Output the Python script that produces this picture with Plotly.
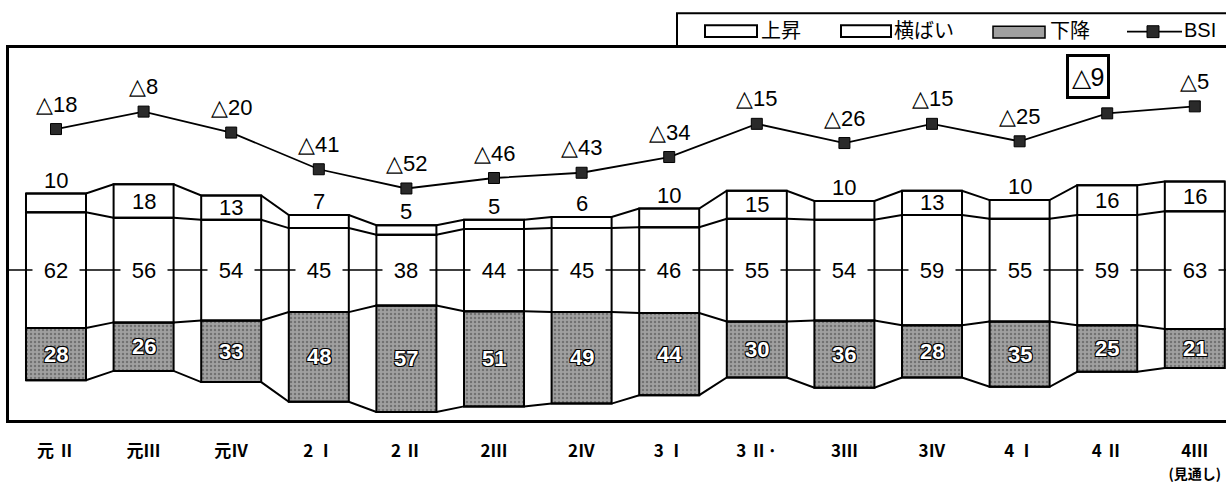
import plotly.graph_objects as go

# ---- data ----
categories = ["元 Ⅱ", "元Ⅲ", "元Ⅳ", "2 Ⅰ", "2 Ⅱ", "2Ⅲ", "2Ⅳ",
              "3 Ⅰ", "3 Ⅱ·", "3Ⅲ", "3Ⅳ", "4 Ⅰ", "4 Ⅱ",
              "4Ⅲ<br><span style='font-size:14px'>(見通し)</span>"]
up = [10, 18, 13, 7, 5, 5, 6, 10, 15, 10, 13, 10, 16, 16]        # 上昇
flat = [62, 56, 54, 45, 38, 44, 45, 46, 55, 54, 59, 55, 59, 63]  # 横ばい
down = [28, 26, 33, 48, 57, 51, 49, 44, 30, 36, 28, 35, 25, 21]  # 下降
bsi = [-18, -8, -20, -41, -52, -46, -43, -34, -15, -26, -15, -25, -9, -5]
boxed_index = 12  # BSI label drawn in a box (4 Ⅱ)

NUM_FONT = "Liberation Sans, Arial, sans-serif"
JP_FONT = "Noto Sans CJK JP, sans-serif"
W = 0.685
GRAY = "#a0a0a0"

x = list(range(len(categories)))
flat_base = [-f / 2 for f in flat]
down_base = [-f / 2 - d for f, d in zip(flat, down)]
up_base = [f / 2 for f in flat]
top = [f / 2 + u for f, u in zip(flat, up)]

fig = go.Figure()

outline = dict(color="black", width=2)
fig.add_trace(go.Bar(x=x, y=down, base=down_base, width=W, name="下降",
                     marker=dict(color=GRAY, line=outline,
                                 pattern=dict(shape=".", fgcolor="#444444", bgcolor=GRAY,
                                              size=4, solidity=0.3)),
                     showlegend=False, hoverinfo="skip"))
fig.add_trace(go.Bar(x=x, y=flat, base=flat_base, width=W, name="横ばい",
                     marker=dict(color="white", line=outline),
                     showlegend=False, hoverinfo="skip"))
fig.add_trace(go.Bar(x=x, y=up, base=up_base, width=W, name="上昇",
                     marker=dict(color="white", line=outline),
                     showlegend=False, hoverinfo="skip"))

# connector lines between bars at each boundary level
for level in (top, up_base, flat_base, down_base):
    xs, ys = [], []
    for i, b in zip(x, level):
        xs += [i - W / 2, i + W / 2]
        ys += [b, b]
    fig.add_trace(go.Scatter(x=xs, y=ys, mode="lines", line=dict(color="black", width=2),
                             showlegend=False, hoverinfo="skip"))

fig.add_trace(go.Scatter(x=x, y=bsi, yaxis="y2", mode="lines+markers", name="BSI",
                         line=dict(color="black", width=1.8),
                         marker=dict(symbol="square", size=11, color="#2a2a2a",
                                     line=dict(color="black", width=1)),
                         showlegend=False))

ann = []
for i in x:
    # BSI labels
    txt = ("△" + str(abs(bsi[i]))) if bsi[i] < 0 else str(bsi[i])
    if i == boxed_index:
        ann.append(dict(x=i, y=bsi[i], yref="y2", text=txt, showarrow=False,
                        xshift=-19, yshift=37, font=dict(family=NUM_FONT, size=25, color="black"),
                        bordercolor="black", borderwidth=3, borderpad=2, bgcolor="white",
                        width=34, height=35))
    else:
        ann.append(dict(x=i, y=bsi[i], yref="y2", text=txt, showarrow=False, yshift=25,
                        font=dict(family=NUM_FONT, size=22, color="black")))
    # 横ばい labels on centre line
    ann.append(dict(x=i, y=0, text=str(flat[i]), showarrow=False, bgcolor="white", width=44,
                    font=dict(family=NUM_FONT, size=22, color="black")))
    # 下降 labels
    ann.append(dict(x=i, y=down_base[i] + down[i] / 2, text=str(down[i]), showarrow=False,
                    font=dict(family=NUM_FONT, size=22, color="white", weight="bold",
                              shadow="1px 1px 0 #000, -1px -1px 0 #000, 1px -1px 0 #000, -1px 1px 0 #000")))
    # 上昇 labels
    if up[i] >= 12:
        ann.append(dict(x=i, y=up_base[i] + up[i] / 2, text=str(up[i]), showarrow=False,
                        font=dict(family=NUM_FONT, size=22, color="black")))
    else:
        ann.append(dict(x=i, y=top[i], text=str(up[i]), showarrow=False, yanchor="bottom",
                        yshift=-1, font=dict(family=NUM_FONT, size=22, color="black")))

# ---- legend (drawn in paper coordinates) ----
L, T, PW, PH = 9, 48, 1217, 376
def px(v):
    return (v - L) / PW
def py(v):
    return (T + PH - v) / PH

shapes = [
    dict(type="line", xref="paper", yref="y", x0=0, x1=1, y0=0, y1=0,
         line=dict(color="black", width=1.5), layer="above"),
    dict(type="rect", xref="paper", yref="paper", x0=px(677), x1=px(1240), y0=py(46), y1=py(13),
         line=dict(color="black", width=2), fillcolor="white"),
    dict(type="rect", xref="paper", yref="paper", x0=px(705), x1=px(757), y0=py(37), y1=py(25),
         line=dict(color="black", width=2), fillcolor="white"),
    dict(type="rect", xref="paper", yref="paper", x0=px(841), x1=px(891), y0=py(37), y1=py(25),
         line=dict(color="black", width=2), fillcolor="white"),
    dict(type="rect", xref="paper", yref="paper", x0=px(993), x1=px(1045), y0=py(38), y1=py(26),
         line=dict(color="black", width=1.5), fillcolor=GRAY),
    dict(type="line", xref="paper", yref="paper", x0=px(1127), x1=px(1182), y0=py(31.5), y1=py(31.5),
         line=dict(color="black", width=1.8)),
    dict(type="rect", xref="paper", yref="paper", x0=px(1147), x1=px(1159), y0=py(37.5), y1=py(25.5),
         line=dict(color="black", width=1), fillcolor="#2a2a2a"),
]
for label, lx in (("上昇", 759), ("横ばい", 892), ("下降", 1048), ("BSI", 1182)):
    ann.append(dict(xref="paper", yref="paper", x=px(lx), y=py(29.5), text=label, showarrow=False,
                    xanchor="left", yanchor="middle",
                    font=dict(family=JP_FONT if label != "BSI" else NUM_FONT, size=20, color="black")))

fig.update_layout(
    width=1226, height=483,
    margin=dict(l=L, r=0, t=T, b=483 - T - PH),
    paper_bgcolor="white", plot_bgcolor="white",
    barmode="overlay", showlegend=False,
    annotations=ann, shapes=shapes,
    xaxis=dict(range=[-0.5365, 13.356], tickvals=x, ticktext=categories,
               showgrid=False, zeroline=False, showline=True, mirror=True,
               linecolor="black", linewidth=2.5, ticks="outside", ticklen=14,
               tickcolor="rgba(0,0,0,0)", ticklabeloverflow="allow",
               tickfont=dict(family=JP_FONT, size=17, color="black", weight="bold")),
    yaxis=dict(range=[-80.29, 118.97], showgrid=False, zeroline=False, showline=True,
               linecolor="black", linewidth=2.5, showticklabels=False, ticks=""),
    yaxis2=dict(range=[-184.5, 28.4], overlaying="y", visible=False),
)

fig.write_html("out.html", config={"displayModeBar": False},
               post_script="document.body.style.margin='0';document.body.style.overflow='hidden';")
